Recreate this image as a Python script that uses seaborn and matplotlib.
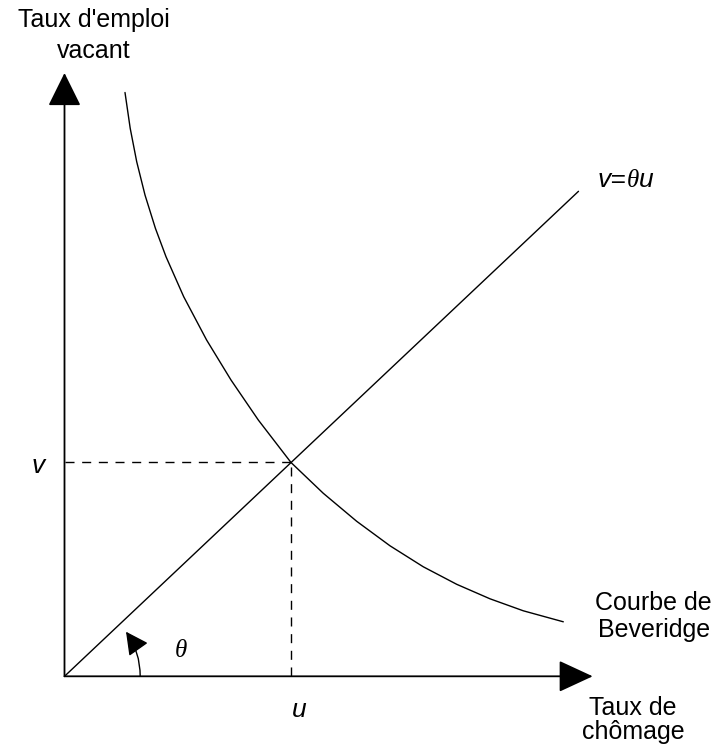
import matplotlib
matplotlib.use("Agg")
import numpy as np
import pandas as pd
import seaborn as sns
import matplotlib.pyplot as plt

# ---- data (units: 1 = 100 px, origin at the axes corner) ----
bev_u = [0.605, 0.657, 0.722, 0.805, 0.909, 1.015, 1.192, 1.421, 1.665, 1.938,
         2.265, 2.588, 2.922, 3.255, 3.588, 3.922, 4.255, 4.588, 4.988]
bev_v = [5.838, 5.480, 5.146, 4.813, 4.480, 4.196, 3.796, 3.363, 2.963, 2.563,
         2.138, 1.830, 1.550, 1.305, 1.095, 0.920, 0.775, 0.655, 0.545]
ray_u = [0.0, 5.14]
ray_v = [0.0, 4.85]
eq_u = 2.265
eq_v = 2.138
x_axis_end = 5.282
y_axis_end = 6.033
theta_arc_start = (0.757, 0.0)
theta_arc_end = (0.615, 0.446)

W, H = 719, 751
sns.set_theme(style="white")
plt.rcParams["font.family"] = ["Liberation Sans", "DejaVu Sans"]

fig = plt.figure(figsize=(W / 100, H / 100), dpi=100)
ax = fig.add_axes([0, 0, 1, 1])
ax.set_xlim(-0.645, -0.645 + W / 100)
ax.set_ylim(6.763 - H / 100, 6.763)
ax.set_axis_off()

bev = pd.DataFrame({"u": bev_u, "v": bev_v})
ray = pd.DataFrame({"u": ray_u, "v": ray_v})
sns.lineplot(data=bev, x="u", y="v", sort=False, estimator=None, color="black", lw=1.0, ax=ax)
sns.lineplot(data=ray, x="u", y="v", sort=False, estimator=None, color="black", lw=1.0, ax=ax)

# dashed guides
ax.plot([0, eq_u], [eq_v, eq_v], color="black", lw=1.0, dashes=(6.5, 5.5))
ax.plot([eq_u, eq_u], [0, eq_v], color="black", lw=1.0, dashes=(6.5, 5.5))

# axes with big filled arrowheads
ax.annotate("", xy=(x_axis_end, 0), xytext=(0, 0),
            arrowprops=dict(arrowstyle="-|>,head_length=1.08,head_width=0.5",
                            mutation_scale=20, color="black", lw=1.3,
                            shrinkA=0, shrinkB=0))
ax.annotate("", xy=(0, y_axis_end), xytext=(0, 0),
            arrowprops=dict(arrowstyle="-|>,head_length=1.05,head_width=0.52",
                            mutation_scale=20, color="black", lw=1.3,
                            shrinkA=0, shrinkB=0))

# theta arc
ax.annotate("", xy=theta_arc_end, xytext=theta_arc_start,
            arrowprops=dict(arrowstyle="-|>,head_length=0.7,head_width=0.36",
                            mutation_scale=20, color="black", lw=1.0,
                            shrinkA=0, shrinkB=0,
                            connectionstyle="arc3,rad=0.158"))


def P(px, py):
    return (px / W, 1 - py / H)


tk = dict(transform=ax.transAxes, color="black")
fs = 18
ax.text(*P(94, 27.3), "Taux d'emploi", ha="center", va="baseline", fontsize=fs, **tk)
ax.text(*P(94, 58.3), "vacant", ha="center", va="baseline", fontsize=fs, **tk)
ax.text(*P(653, 610), "Courbe de", ha="center", va="baseline", fontsize=fs, **tk)
ax.text(*P(654, 636.7), "Beveridge", ha="center", va="baseline", fontsize=fs, **tk)
ax.text(*P(633, 715), "Taux de", ha="center", va="baseline", fontsize=fs, **tk)
ax.text(*P(633, 739), "chômage", ha="center", va="baseline", fontsize=fs, **tk)

fi = 19
ax.text(*P(38.3, 473.3), "v", ha="center", va="baseline", fontsize=fi, style="italic", **tk)
ax.text(*P(299, 716.7), "u", ha="center", va="baseline", fontsize=fi, style="italic", **tk)
ax.text(*P(181, 657.3), "θ", ha="center", va="baseline", fontsize=18, style="italic",
        family=["Liberation Serif", "DejaVu Serif"], **tk)

# v=θu label
t1 = ax.text(*P(598, 187.3), "v=", ha="left", va="baseline", fontsize=fi, style="italic", **tk)
t2 = ax.annotate("θ", xy=(1, P(0, 187.3)[1]), xycoords=(t1, "axes fraction"),
                 ha="left", va="baseline", fontsize=18, style="italic",
                 family=["Liberation Serif", "DejaVu Serif"], color="black")
t3 = ax.annotate("u", xy=(1, P(0, 187.3)[1]), xycoords=(t2, "axes fraction"),
                 ha="left", va="baseline", fontsize=fi, style="italic", color="black")

fig.savefig("out.png", dpi=100, facecolor="white")
